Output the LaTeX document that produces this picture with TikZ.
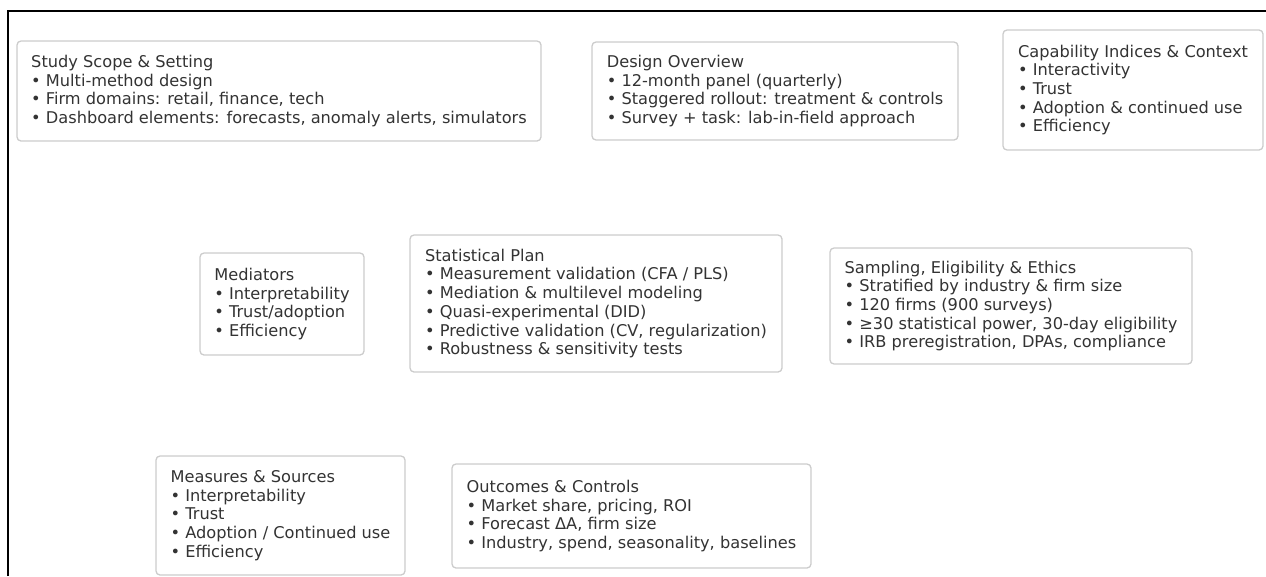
\documentclass[tikz,border=0pt]{standalone}
\usepackage{fontspec}
\setmainfont{DejaVu Sans}
\usepackage{xcolor}
\usetikzlibrary{positioning}

\definecolor{inkgray}{HTML}{333333}
\definecolor{edgegray}{HTML}{CCCCCC}

\begin{document}
\begin{tikzpicture}[
  x=1pt, y=-1pt,
  every node/.style={font=\fontsize{16.2}{18.7}\selectfont, text=inkgray},
  panel/.style={draw=edgegray, line width=1.3pt, rounded corners=4pt, fill=white, align=left, inner sep=0pt},
]
\useasboundingbox (0,0) rectangle (1266,576);
\draw[line width=1.6pt] (8,576) -- (8,11) -- (1266,11);
% top row
\node[panel, minimum width=524pt, minimum height=100pt] (scope) at (279,91) {Study Scope \& Setting\\• Multi-method design\\• Firm domains: retail, finance, tech\\• Dashboard elements: forecasts, anomaly alerts, simulators};
\node[panel, minimum width=366pt, minimum height=98pt] (design) at (775,91) {Design Overview\\• 12-month panel (quarterly)\\• Staggered rollout: treatment \& controls\\• Survey + task: lab-in-field approach};
\node[panel, minimum width=260pt, minimum height=120pt] (capab) at (1133,90) {Capability Indices \& Context\\• Interactivity\\• Trust\\• Adoption \& continued use\\• Efficiency};
% middle row
\node[panel, minimum width=164pt, minimum height=102pt] (mediat) at (282,304) {Mediators\\• Interpretability\\• Trust/adoption\\• Efficiency};
\node[panel, minimum width=372pt, minimum height=137pt] (stats) at (596,303.5) {Statistical Plan\\• Measurement validation (CFA / PLS)\\• Mediation \& multilevel modeling\\• Quasi-experimental (DID)\\• Predictive validation (CV, regularization)\\• Robustness \& sensitivity tests};
\node[panel, minimum width=362pt, minimum height=116pt] (sampl) at (1011,306) {Sampling, Eligibility \& Ethics\\• Stratified by industry \& firm size\\• 120 firms (900 surveys)\\• ≥30 statistical power, 30-day eligibility\\• IRB preregistration, DPAs, compliance};
% bottom row
\node[panel, minimum width=249pt, minimum height=119pt] (measur) at (280.5,515.5) {Measures \& Sources\\• Interpretability\\• Trust\\• Adoption / Continued use\\• Efficiency};
\node[panel, minimum width=359pt, minimum height=104pt] (outcom) at (631.5,516) {Outcomes \& Controls\\• Market share, pricing, ROI\\• Forecast ΔA, firm size\\• Industry, spend, seasonality, baselines};
\end{tikzpicture}
\end{document}
